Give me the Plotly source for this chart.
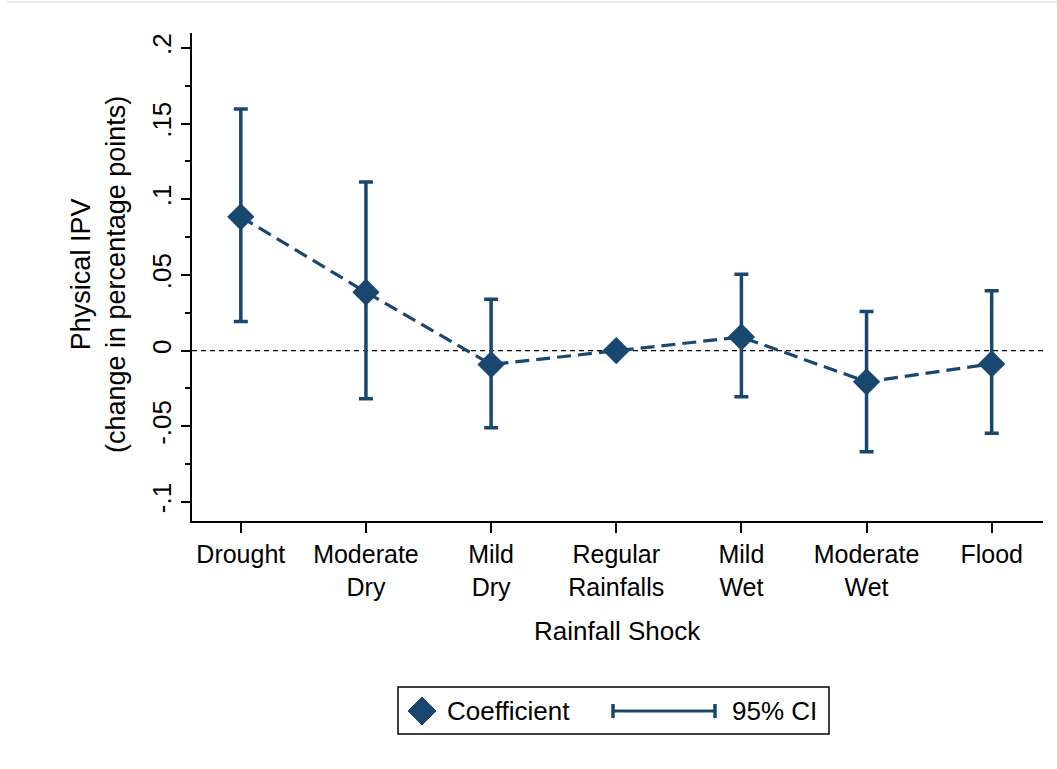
import plotly.graph_objects as go

# ---------------- data ----------------
categories = ["Drought", "Moderate Dry", "Mild Dry", "Regular Rainfalls",
              "Mild Wet", "Moderate Wet", "Flood"]
tick_labels = ["Drought", "Moderate<br>Dry", "Mild<br>Dry", "Regular<br>Rainfalls",
               "Mild<br>Wet", "Moderate<br>Wet", "Flood"]
coef = [0.0884, 0.0386, -0.0092, 0.0, 0.0090, -0.0206, -0.0088]
ci_low = [0.0193, -0.0318, -0.0509, None, -0.0305, -0.0669, -0.0546]
ci_high = [0.1597, 0.1114, 0.0340, None, 0.0505, 0.0259, 0.0395]
ytick_vals = [-0.1, -0.05, 0.0, 0.05, 0.1, 0.15, 0.2]
ytick_text = ["-.1", "-.05", "0", ".05", ".1", ".15", ".2"]
yminor_vals = [-0.075, -0.025, 0.025, 0.075, 0.125, 0.175]

NAVY = "#1a476f"
FONT = "Liberation Sans, Arial, sans-serif"
FS = 26

err_plus = [None if h is None else h - c for h, c in zip(ci_high, coef)]
err_minus = [None if l is None else c - l for l, c in zip(ci_low, coef)]

# plot area in pixels
L, R, T, B = 192, 1043, 33, 521
W, H = R - L, B - T
def px(X):
    return (X - L) / W
def py(Y):
    return (B - Y) / H

fig = go.Figure()
fig.add_trace(go.Scatter(
    x=categories, y=coef, mode="lines+markers",
    line=dict(color=NAVY, width=3.2, dash="14px,7px"),
    marker=dict(symbol="diamond", size=21, color=NAVY),
    error_y=dict(type="data", symmetric=False, array=err_plus, arrayminus=err_minus,
                 color=NAVY, thickness=3.5, width=7),
    showlegend=False,
))

shapes = [
    # zero reference line
    dict(type="line", xref="paper", yref="y", x0=0, x1=1, y0=0, y1=0,
         line=dict(color="black", width=1.3, dash="5px,4px"), layer="below"),
    # faint outer frame line at top
    dict(type="line", xref="paper", yref="paper", x0=px(7), x1=px(1057), y0=py(2), y1=py(2),
         line=dict(color="#e4eded", width=2)),
    # legend box
    dict(type="rect", xref="paper", yref="paper", x0=px(398), x1=px(829), y0=py(687), y1=py(734),
         line=dict(color="black", width=1.5), fillcolor="white"),
    # legend diamond
    dict(type="path", xref="paper", yref="paper",
         path=f"M {px(408)},{py(711)} L {px(422)},{py(697)} L {px(436)},{py(711)} L {px(422)},{py(725)} Z",
         fillcolor=NAVY, line=dict(color=NAVY, width=1)),
    # legend CI line
    dict(type="line", xref="paper", yref="paper", x0=px(613), x1=px(715), y0=py(711), y1=py(711),
         line=dict(color=NAVY, width=3)),
    dict(type="line", xref="paper", yref="paper", x0=px(613), x1=px(613), y0=py(704), y1=py(718),
         line=dict(color=NAVY, width=3.5)),
    dict(type="line", xref="paper", yref="paper", x0=px(715), x1=px(715), y0=py(704), y1=py(718),
         line=dict(color=NAVY, width=3.5)),
]

annotations = [
    dict(text="Coefficient", xref="paper", yref="paper", x=px(445), y=py(711),
         xanchor="left", yanchor="middle", showarrow=False,
         font=dict(family=FONT, size=FS, color="black")),
    dict(text="95% CI", xref="paper", yref="paper", x=px(730), y=py(711),
         xanchor="left", yanchor="middle", showarrow=False,
         font=dict(family=FONT, size=FS, color="black")),
    dict(text="Physical IPV<br>(change in percentage points)", xref="paper", yref="paper",
         x=px(98), y=py(275), textangle=-90, xanchor="center", yanchor="middle",
         showarrow=False, font=dict(family=FONT, size=27, color="black")),
    dict(text="Rainfall Shock", xref="paper", yref="paper", x=0.5, y=py(631),
         xanchor="center", yanchor="middle", showarrow=False,
         font=dict(family=FONT, size=FS, color="black")),
]

fig.update_layout(
    width=1057, height=769,
    margin=dict(l=L, r=1057 - R, t=T, b=769 - B, autoexpand=False),
    paper_bgcolor="white", plot_bgcolor="white",
    font=dict(family=FONT, size=FS, color="black"),
    shapes=shapes, annotations=annotations, showlegend=False,
)
fig.update_xaxes(
    type="category", range=[-0.39, 6.41],
    tickmode="array", tickvals=categories, ticktext=tick_labels,
    showline=True, linecolor="black", linewidth=2, mirror=False,
    ticks="outside", ticklen=10, tickwidth=2, tickcolor="black",
    tickfont=dict(family=FONT, size=25, color="black"), ticklabelstandoff=0,
    showgrid=False, zeroline=False,
)
fig.update_yaxes(
    range=[-0.1126, 0.2099], tickmode="array", tickvals=ytick_vals, ticktext=ytick_text,
    tickangle=-90, showline=True, linecolor="black", linewidth=2,
    ticks="outside", ticklen=9, tickwidth=2, tickcolor="black",
    minor=dict(tickmode="array", tickvals=yminor_vals, ticks="outside", ticklen=5,
               tickwidth=2, tickcolor="black", showgrid=False),
    tickfont=dict(family=FONT, size=FS, color="black"),
    showgrid=False, zeroline=False,
)

fig.write_html("out.html")
